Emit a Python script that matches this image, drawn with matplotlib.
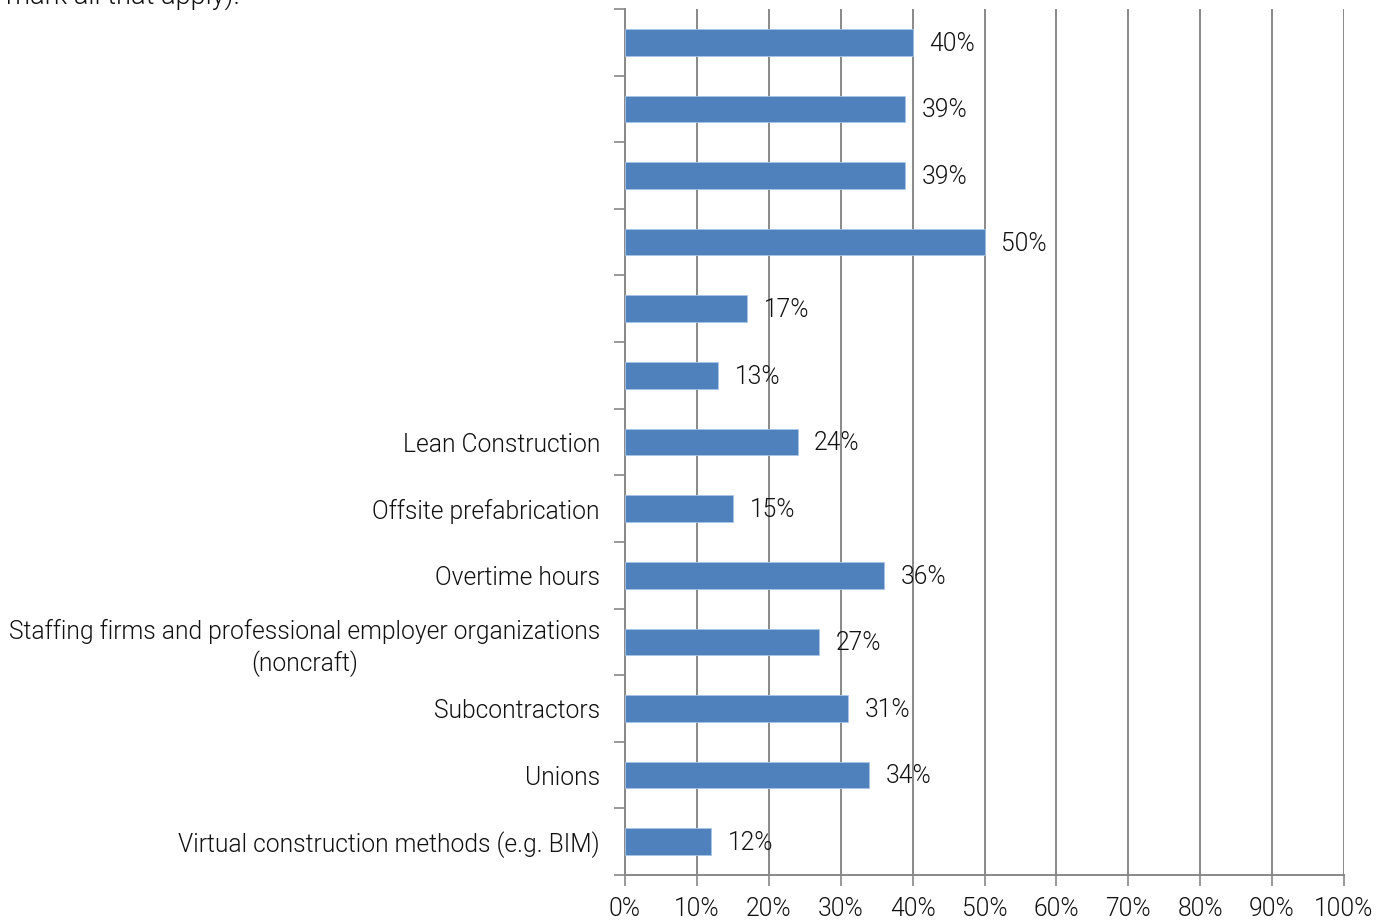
import matplotlib
matplotlib.use("Agg")
import matplotlib.pyplot as plt
import numpy as np

categories = ["", "", "", "", "", "",
              "Lean Construction",
              "Offsite prefabrication",
              "Overtime hours",
              "Staffing firms and professional employer organizations\n(noncraft)",
              "Subcontractors",
              "Unions",
              "Virtual construction methods (e.g. BIM)"]
values = [40, 39, 39, 50, 17, 13, 24, 15, 36, 27, 31, 34, 12]
xticks = [0, 10, 20, 30, 40, 50, 60, 70, 80, 90, 100]

FONT = "Roboto"
plt.rcParams['font.family'] = [FONT, 'DejaVu Sans']
FS = 17.7
TC = "#111111"
FW = 300

fig = plt.figure(figsize=(13.9, 9.22), dpi=100)
ax = fig.add_axes([625/1390, (922-875)/922, (1344-625)/1390, (875-9)/922])

n = len(categories)
y = np.arange(n)
ax.barh(y, values, height=0.4, color="#4F81BD", edgecolor="#A9C4E6", linewidth=0.6, zorder=3)
ax.set_ylim(n - 0.5, -0.5)
ax.set_xlim(0, 100)

ax.set_yticks(y)
ax.set_yticklabels(categories, fontsize=FS, color=TC, fontweight=FW,
                   multialignment="center", linespacing=1.3)
ax.tick_params(axis='y', which='major', length=0, pad=18)
ax.set_yticks(np.arange(-0.5, n, 1.0), minor=True)
ax.tick_params(axis='y', which='minor', length=8, color="#888888", width=1.2)

ax.set_xticks(xticks)
ax.set_xticklabels([f"{t}%" for t in xticks], fontsize=FS, color=TC, fontweight=FW)
ax.tick_params(axis='x', length=8, color="#888888", width=1.2, pad=8)
ax.grid(axis='x', color="#888888", linewidth=1.4, zorder=0)

for s in ["top", "right"]:
    ax.spines[s].set_visible(False)
for s in ["left", "bottom"]:
    ax.spines[s].set_color("#888888")
    ax.spines[s].set_linewidth(1.4)

for yi, v in zip(y, values):
    ax.annotate(f"{v}%", (v, yi), xytext=(12, -1.0), textcoords="offset points",
                va="center", ha="left", fontsize=FS, color=TC, fontweight=FW, zorder=4)

fig.text(240/1390, 1.005, "mark all that apply).", fontsize=19.5, color=TC, fontweight=FW,
         va="center", ha="right")

fig.savefig("out.png", dpi=100)
